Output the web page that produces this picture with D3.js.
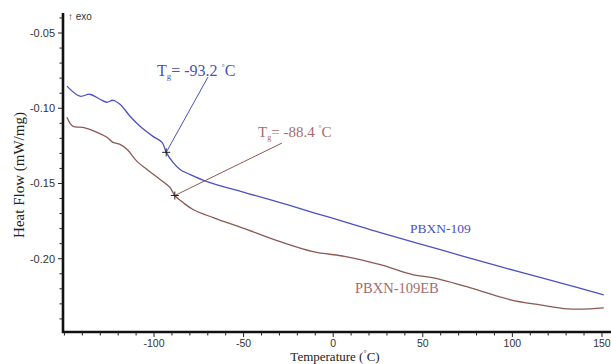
<!DOCTYPE html>
<html><head><meta charset="utf-8">
<script src="https://cdn.jsdelivr.net/npm/d3@7"></script>
<style>body{margin:0;background:#fff}svg{display:block}</style>
</head><body><svg id="c" width="611" height="364"></svg>
<script>
const blueT  = [-148.6,-141.3,-135.8,-130.2,-126.3,-122.9,-119,-113.4,-107.8,-100.6,-95.5,-93.2,-89.4,-85.5,-79.9,-70.4,-48,-29.6,-11.2,7.8,26.3,59.8,93.3,126.8,151];
const blueHF = [-0.0853,-0.092,-0.0907,-0.094,-0.096,-0.0947,-0.0973,-0.1053,-0.112,-0.1187,-0.1227,-0.1293,-0.136,-0.1407,-0.144,-0.1487,-0.1565,-0.1627,-0.1693,-0.176,-0.1827,-0.194,-0.2053,-0.216,-0.224];
const brownT  = [-148.6,-145.3,-139.7,-131.8,-126.3,-122.9,-119,-115.1,-109.5,-103.9,-96.6,-91.1,-88.4,-83.8,-78.2,-67,-48,-29.6,-11.2,7.8,26.3,44.7,55.9,74.9,83.8,98.9,115.6,130.7,143.6,151];
const brownHF = [-0.106,-0.112,-0.1127,-0.116,-0.1193,-0.1227,-0.124,-0.1273,-0.1353,-0.1407,-0.1473,-0.1527,-0.158,-0.1627,-0.1673,-0.1727,-0.1807,-0.1887,-0.1953,-0.1987,-0.204,-0.2107,-0.2127,-0.2187,-0.222,-0.2273,-0.2307,-0.2333,-0.2333,-0.2327];
const seriesNames = ["PBXN-109","PBXN-109EB"];
const tgValues = [-93.2,-88.4];
const tgHF = [-0.1293,-0.158];
const xTicks = [-100,-50,0,50,100,150];
const yTicks = [-0.05,-0.10,-0.15,-0.20];
const yTickLabels = ["-0.05","-0.10","-0.15","-0.20"];

const svg = d3.select("#c");
const x = d3.scaleLinear().domain([-150.8,151.7]).range([63,605]);
const y = d3.scaleLinear().domain([-0.2487,-0.0367]).range([332,13]);
const blueC = "#4b50c4", brownC = "#8a5a52", brownTxt = "#a86a6a";

const line = d3.line().x(d=>x(d[0])).y(d=>y(d[1])).curve(d3.curveCatmullRom.alpha(0.5));
svg.append("path").datum(d3.zip(blueT,blueHF)).attr("d",line).attr("fill","none").attr("stroke",blueC).attr("stroke-width",1.3);
svg.append("path").datum(d3.zip(brownT,brownHF)).attr("d",line).attr("fill","none").attr("stroke",brownC).attr("stroke-width",1.3);

// axes
const gx = svg.append("g").attr("transform","translate(0,332)");
gx.append("line").attr("x1",62).attr("x2",611).attr("stroke","#111").attr("stroke-width",2.6);
const minorX = d3.range(-150,151,10);
gx.selectAll(".mx").data(minorX).join("line").attr("x1",d=>x(d)).attr("x2",d=>x(d)).attr("y1",0).attr("y2",d=>xTicks.includes(d)?5:3.5).attr("stroke","#222").attr("stroke-width",1);
gx.selectAll(".lx").data(xTicks).join("text").attr("x",d=>x(d)).attr("y",14.5).attr("text-anchor","middle")
  .attr("font-family","Liberation Sans, Arial, sans-serif").attr("font-size",10.5).attr("fill","#333").text(d=>d);

const gy = svg.append("g").attr("transform","translate(63,0)");
gy.append("line").attr("y1",13).attr("y2",333).attr("stroke","#111").attr("stroke-width",2.6);
const minorY = d3.range(-24,-3,1).map(v=>v/100);
gy.selectAll(".my").data(minorY).join("line").attr("x1",d=>yTicks.some(t=>Math.abs(t-d)<1e-6)?-5:-3.5).attr("x2",0).attr("y1",d=>y(d)).attr("y2",d=>y(d)).attr("stroke","#222").attr("stroke-width",1);
gy.selectAll(".ly").data(yTicks).join("text").attr("x",-8).attr("y",d=>y(d)+4).attr("text-anchor","end")
  .attr("font-family","Liberation Sans, Arial, sans-serif").attr("font-size",11).attr("fill","#333").text((d,i)=>yTickLabels[i]);

svg.append("text").attr("x",68).attr("y",20).attr("font-family","Liberation Sans, Arial, sans-serif").attr("font-size",10).attr("fill","#333").text("↑ exo");

// axis titles
svg.append("text").attr("transform","translate(24,175) rotate(-90)").attr("text-anchor","middle")
  .attr("font-family","Liberation Serif, Times New Roman, serif").attr("font-size",15).attr("fill","#222").text("Heat Flow (mW/mg)");
const xt = svg.append("text").attr("x",335).attr("y",361).attr("text-anchor","middle")
  .attr("font-family","Liberation Serif, Times New Roman, serif").attr("font-size",13).attr("fill","#222");
xt.append("tspan").text("Temperature (");
xt.append("tspan").attr("font-size",8).attr("dy",-5).text("°");
xt.append("tspan").attr("dy",5).text("C)");

// Tg annotations
const ann = [
  {c:blueC, lab:[157,76], lx:[208,77], fs:16},
  {c:brownTxt, lab:[258,137], lx:[282,143], fs:15}
];
tgValues.forEach((t,i)=>{
  const px=x(t), py=y(tgHF[i]), a=ann[i];
  const lc = i===0?blueC:brownC;
  svg.append("line").attr("x1",a.lx[0]).attr("y1",a.lx[1]).attr("x2",px).attr("y2",py).attr("stroke",lc).attr("stroke-width",1);
  svg.append("line").attr("x1",px-4).attr("x2",px+4).attr("y1",py).attr("y2",py).attr("stroke","#222").attr("stroke-width",1);
  svg.append("line").attr("x1",px).attr("x2",px).attr("y1",py-4).attr("y2",py+4).attr("stroke","#222").attr("stroke-width",1);
  const tx = svg.append("text").attr("x",a.lab[0]).attr("y",a.lab[1]).attr("font-family","Liberation Serif, Times New Roman, serif").attr("font-size",a.fs).attr("fill",a.c);
  tx.append("tspan").text("T");
  tx.append("tspan").attr("font-size",a.fs*0.55).attr("dy",3).text("g");
  tx.append("tspan").attr("dy",-3).text("= " + t.toFixed(1) + " ");
  tx.append("tspan").attr("font-size",a.fs*0.5).attr("dy",-6).text("°");
  tx.append("tspan").attr("dy",6).text("C");
});

svg.append("text").attr("x",410).attr("y",233).attr("font-family","Liberation Serif, Times New Roman, serif").attr("font-size",13.5).attr("fill",blueC).text(seriesNames[0]);
svg.append("text").attr("x",355).attr("y",293).attr("font-family","Liberation Serif, Times New Roman, serif").attr("font-size",14.5).attr("fill",brownTxt).text(seriesNames[1]);
</script></body></html>
